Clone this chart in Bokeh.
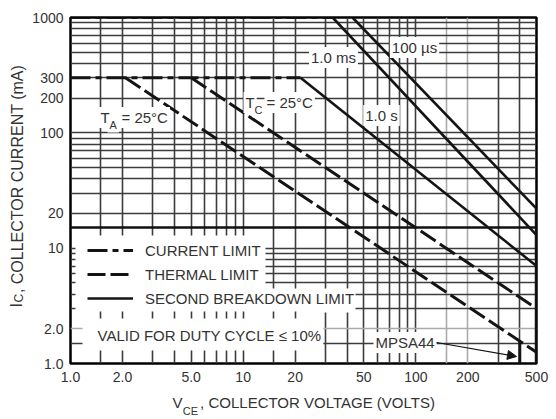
import math
from bokeh.plotting import figure
from bokeh.models import (FixedTicker, Grid, Label, Legend, LegendItem, Arrow, NormalHead,
                          LogAxis)
from bokeh.embed import file_html
from bokeh.resources import INLINE

# ---------------- data ----------------
x_ticks = [1, 2, 5, 10, 20, 50, 100, 200, 500]
x_tick_labels = ["1.0", "2.0", "5.0", "10", "20", "50", "100", "200", "500"]
y_ticks = [1, 2, 10, 20, 100, 200, 300, 1000]
y_tick_labels = ["1.0", "2.0", "10", "20", "100", "200", "300", "1000"]

current_limit_v = [[1, 33], [1, 21.5]]
current_limit_ma = [[1000, 1000], [300, 300]]

thermal_ta_v = [2.08, 500]
thermal_ta_ma = [300, 1.25]
thermal_tc_v = [5.0, 500]
thermal_tc_ma = [300, 3.0]

sb_100us_v = [43, 500]
sb_100us_ma = [1000, 22]
sb_1ms_v = [33, 500]
sb_1ms_ma = [1000, 13]
sb_1s_v = [21.5, 500]
sb_1s_ma = [300, 7.0]

vceo_mpsa42_v = [500, 500]
vceo_mpsa42_ma = [1, 22]
vceo_mpsa44_v = [400, 400]
vceo_mpsa44_ma = [1, 1.56]

legend_labels = ["CURRENT LIMIT", "THERMAL LIMIT", "SECOND BREAKDOWN LIMIT"]
x_title = ["V", "CE", ", COLLECTOR VOLTAGE (VOLTS)"]
y_title = ["I", "C", ", COLLECTOR CURRENT (mA)"]

# grid line values
grid_v_left = [1.5, 2, 3, 4, 5, 6, 7, 8, 9, 10]
grid_v_mid = [15, 20]
grid_v_3040 = [30, 40]
grid_v_right = [50, 60, 70, 80, 90, 100, 300, 400]
grid_v_light = [150, 200]
grid_h_upper = [20, 30, 40, 50, 60, 70, 80, 90, 100, 200, 300, 400, 500, 600, 700, 800, 900]
grid_h_15 = [15]
grid_h_lower_a = [5, 6, 7, 8, 9, 10]
grid_h_lower_b = [3, 4]
grid_h_lower_c = [1.5]
grid_h_light = [2]

# ---------------- style ----------------
FONT = "Liberation Sans"
INK = "#141414"
TXT = "#333333"
GRID_D = "#3c3c3c"
GRID_L = "#aaaaaa"

PPX = 466 / math.log10(500)
PPY = 346 / 3


def X(px):
    return round(10 ** ((px - 70) / PPX), 5)


def Y(py):
    return round(10 ** ((363 - py) / PPY), 5)


p = figure(width=556, height=419, x_axis_type="log", y_axis_type="log",
           x_range=(1, 500), y_range=(1, 1000), output_backend="svg",
           toolbar_location=None, min_border_left=70, min_border_right=20,
           min_border_top=17, min_border_bottom=56)
p.grid.visible = False
p.outline_line_color = "black"
p.outline_line_width = 2.5
p.background_fill_color = "white"
p.border_fill_color = "white"


def style_axis(ax, size, standoff):
    ax.axis_line_color = None
    ax.major_tick_line_color = None
    ax.minor_tick_line_color = None
    ax.major_tick_out = 0
    ax.major_tick_in = 0
    ax.minor_tick_out = 0
    ax.minor_tick_in = 0
    ax.major_label_text_font = FONT
    ax.major_label_text_font_size = size
    ax.major_label_text_color = TXT
    ax.major_label_standoff = standoff


style_axis(p.xaxis[0], "14px", 8)
style_axis(p.yaxis[0], "14px", 7)
p.xaxis.ticker = FixedTicker(ticks=x_ticks)
p.xaxis.major_label_overrides = {float(t): s for t, s in zip(x_ticks, x_tick_labels)}
p.yaxis.ticker = FixedTicker(ticks=y_ticks)
p.yaxis.major_label_overrides = {float(t): s for t, s in zip(y_ticks, y_tick_labels)}


def title_axis(side, positions, texts, size, standoff):
    ax = LogAxis(ticker=FixedTicker(ticks=positions),
                 major_label_overrides={float(v): t for v, t in zip(positions, texts)})
    style_axis(ax, size, standoff)
    if side == "left":
        ax.major_label_orientation = "vertical"
    p.add_layout(ax, side)


# x title: main text, then subscript
title_axis("below", [X(177), X(317)], [x_title[0], x_title[2]], "15px", 9)
title_axis("below", [X(190)], [x_title[1]], "11px", -9)
# y title (rotated)
title_axis("left", [Y(304.8), Y(178.5)], [y_title[0], y_title[2]], "16px", 4)
title_axis("left", [Y(297.6)], [y_title[1]], "12px", -21)


def grid(dim, ticks, color, width, cross=None):
    g = Grid(dimension=dim, ticker=FixedTicker(ticks=ticks),
             grid_line_color=color, grid_line_width=width)
    if cross is not None:
        g.cross_bounds = cross
    p.add_layout(g)


# vertical grid
grid(0, grid_v_left, GRID_D, 1.6, (13, 1000))
grid(0, grid_v_left + grid_v_mid, GRID_D, 1.6, (1, 1.3))
grid(0, grid_v_left + grid_v_mid, GRID_D, 1.6, (2.45, 2.8))
grid(0, grid_v_mid + grid_v_3040, GRID_D, 1.6, (4.5, 1000))
grid(0, grid_v_3040, GRID_D, 1.6, (1, 2.77))
grid(0, grid_v_right, GRID_D, 1.6)
grid(0, grid_v_light, GRID_L, 1.6)
# horizontal grid
grid(1, grid_h_upper, GRID_D, 1.6)
grid(1, grid_h_15, "#111111", 2.4)
grid(1, grid_h_lower_a, GRID_D, 1.6, (13.5, 500))
grid(1, grid_h_lower_b, GRID_D, 1.6, (44.6, 500))
grid(1, grid_h_lower_c, GRID_D, 1.6, (28.8, 500))
grid(1, grid_h_light, GRID_L, 1.6, (28.8, 500))
grid(1, grid_h_lower_a + grid_h_lower_b, GRID_D, 1.6, (1, 1.07))
grid(1, grid_h_lower_c, GRID_D, 1.6, (1, 1.17))
grid(1, grid_h_light, GRID_L, 1.6, (1, 1.17))

# ---------------- curves ----------------
r_cl = p.multi_line(current_limit_v, current_limit_ma, line_color=INK, line_width=3,
                    line_dash="20 5 6 5")
r_ta = p.line(thermal_ta_v, thermal_ta_ma, line_color=INK, line_width=3, line_dash="18 5")
r_tc = p.line(thermal_tc_v, thermal_tc_ma, line_color=INK, line_width=3, line_dash="18 5")
r_100us = p.line(sb_100us_v, sb_100us_ma, line_color=INK, line_width=2.6)
r_1ms = p.line(sb_1ms_v, sb_1ms_ma, line_color=INK, line_width=2.6)
r_1s = p.line(sb_1s_v, sb_1s_ma, line_color=INK, line_width=2.6)
p.line(vceo_mpsa42_v, vceo_mpsa42_ma, line_color=INK, line_width=3.5)
p.line(vceo_mpsa44_v, vceo_mpsa44_ma, line_color=INK, line_width=3)

legend = Legend(items=[LegendItem(label=legend_labels[0], renderers=[r_cl]),
                       LegendItem(label=legend_labels[1], renderers=[r_ta]),
                       LegendItem(label=legend_labels[2], renderers=[r_1s])],
                location=(17, 55), orientation="vertical", padding=0, margin=0, spacing=4,
                glyph_width=46, glyph_height=20, label_height=20, label_standoff=12,
                label_text_font=FONT, label_text_font_size="15px", label_text_color=TXT,
                border_line_color=None, background_fill_alpha=0)
p.add_layout(legend)


def label(text, px, py, size="15px", align="center", bg=True):
    lab = Label(x=X(px), y=Y(py), text=text, text_font=FONT, text_font_size=size,
                text_align=align, text_baseline="middle", text_color=TXT,
                background_fill_color="white" if bg else None, padding=2)
    p.add_layout(lab)


label("1.0 ms", 333, 57)
label("100 \u00b5s", 414, 47)
label("1.0 s", 381, 115)
label("T", 243, 102, align="left")
label("C", 252, 109, size="11px", align="left")
label("= 25\u00b0C", 264, 102, align="left")
label("T", 98, 117, align="left")
label("A", 107, 124, size="11px", align="left")
label("= 25\u00b0C", 119, 117, align="left")
label("VALID FOR DUTY CYCLE \u2264 10%", 95, 335, align="left")
label("MPSA44", 373, 342, align="left")

p.add_layout(Arrow(end=NormalHead(size=9, fill_color=INK, line_color=INK),
                   x_start=X(436), y_start=Y(342), x_end=X(516), y_end=Y(356),
                   line_color=INK, line_width=1.2))

open("out.html", "w").write(file_html(p, INLINE))
